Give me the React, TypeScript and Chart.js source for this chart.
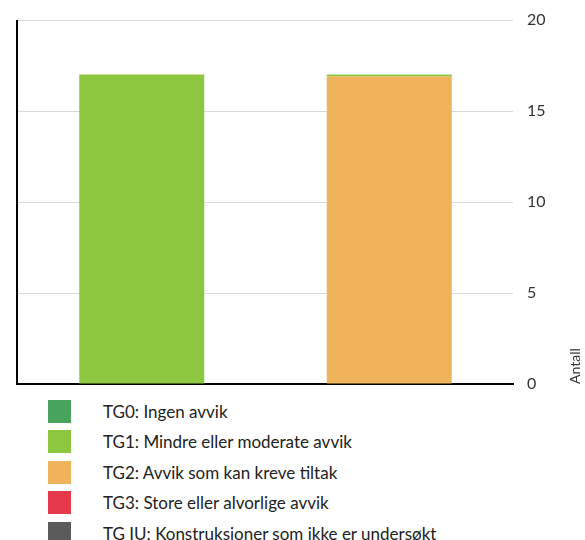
import React, { useEffect, useRef } from "react";
import { Chart, registerables } from "chart.js";

Chart.register(...registerables);

const categories = ["Del 1", "Del 2"];
const seriesLabels = [
  "TG0: Ingen avvik",
  "TG1: Mindre eller moderate avvik",
  "TG2: Avvik som kan kreve tiltak",
  "TG3: Store eller alvorlige avvik",
  "TG IU: Konstruksjoner som ikke er undersøkt",
];
const seriesColors = ["#48A35C", "#8DC63F", "#EEB35B", "#E5384B", "#5B5B5B"];
const tg0Values = [0, 0];
const tg1Values = [17, 0.1];
const tg2Values = [0, 16.9];
const tg3Values = [0, 0];
const tgIuValues = [0, 0];
const yTicks = [0, 5, 10, 15, 20];
const axisTitle = "Antall";

const FONT = "Lato, 'Open Sans', sans-serif";

export default function App() {
  const ref = useRef<HTMLCanvasElement | null>(null);

  useEffect(() => {
    if (!ref.current) return;
    const values = [tg0Values, tg1Values, tg2Values, tg3Values, tgIuValues];
    // stacking order: TG2 below TG1 (as in reference)
    const stackOrder = [2, 1, 0, 3, 4];
    const datasets = stackOrder.map((i) => ({
      label: seriesLabels[i],
      data: values[i],
      backgroundColor: seriesColors[i],
      borderWidth: 0,
      categoryPercentage: 1,
      barPercentage: 0.505,
    }));

    const leftLineAndTitle = {
      id: "leftLineAndTitle",
      afterDraw(chart: any) {
        const { ctx, chartArea } = chart;
        ctx.save();
        ctx.strokeStyle = "#000";
        ctx.lineWidth = 2;
        ctx.beginPath();
        ctx.moveTo(chartArea.left - 1, chartArea.top);
        ctx.lineTo(chartArea.left - 1, chartArea.bottom + 1);
        ctx.stroke();
        ctx.translate(580, chartArea.bottom);
        ctx.rotate(-Math.PI / 2);
        ctx.fillStyle = "#333";
        ctx.font = `14px ${FONT}`;
        ctx.textAlign = "left";
        ctx.textBaseline = "alphabetic";
        ctx.fillText(axisTitle, 0, 0);
        ctx.restore();
      },
    };

    const chart = new Chart(ref.current, {
      type: "bar",
      data: { labels: categories, datasets },
      options: {
        animation: false,
        responsive: false,
        maintainAspectRatio: false,
        layout: { padding: { left: 18, top: 20, right: 0, bottom: 10 } },
        plugins: { legend: { display: false }, tooltip: { enabled: false } },
        scales: {
          x: {
            stacked: true,
            ticks: { display: false },
            grid: { display: false, drawTicks: false },
            border: { display: true, color: "#000", width: 2 },
            afterFit: (s: any) => {
              s.height = 0;
            },
          },
          y: {
            stacked: true,
            position: "right",
            min: 0,
            max: 20,
            afterBuildTicks: (s: any) => {
              s.ticks = yTicks.map((v) => ({ value: v }));
            },
            afterFit: (s: any) => {
              s.width = 72;
              s.paddingTop = 0;
              s.paddingBottom = 0;
            },
            ticks: {
              padding: 14,
              color: "#333",
              font: { family: FONT, size: 16, lineHeight: 0.8 },
            },
            grid: { color: "#D9D9D9", drawTicks: false, lineWidth: 1 },
            border: { display: false },
          },
        },
      },
      plugins: [leftLineAndTitle],
    });
    return () => chart.destroy();
  }, []);

  return (
    <div style={{ position: "absolute", left: 0, top: 0, width: 585, height: 540, background: "#fff" }}>
      <canvas ref={ref} width={585} height={394} style={{ display: "block", width: 585, height: 394 }} />
      <div style={{ position: "absolute", left: 48, top: 396, fontFamily: FONT, fontSize: 17, color: "#222" }}>
        {seriesLabels.map((label, i) => (
          <div key={label} style={{ display: "flex", alignItems: "center", height: 30.5 }}>
            <div style={{ width: 23, height: 23, background: seriesColors[i], marginRight: 32, flex: "none" }} />
            <span style={{ lineHeight: "23px", whiteSpace: "nowrap" }}>{label}</span>
          </div>
        ))}
      </div>
    </div>
  );
}
